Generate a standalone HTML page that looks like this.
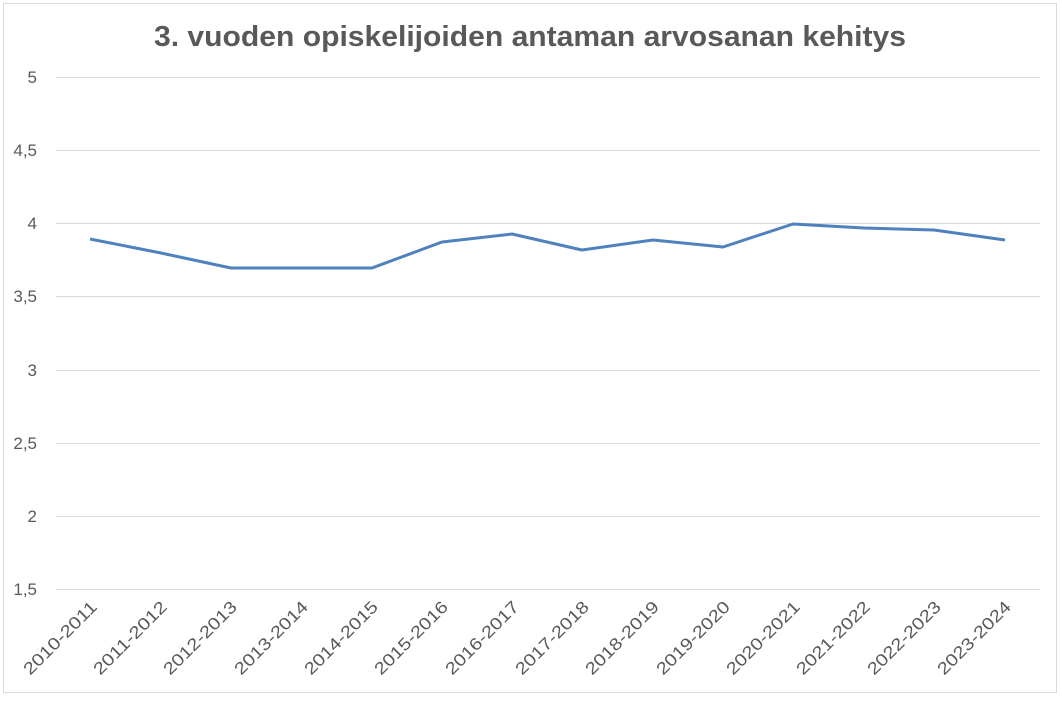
<!DOCTYPE html>
<html><head><meta charset="utf-8"><style>body{margin:0;background:#fff}</style></head>
<body>
<svg width="1062" height="699" xmlns="http://www.w3.org/2000/svg" font-family="Liberation Sans, sans-serif">
<rect x="3.5" y="3.5" width="1053" height="689" fill="#fff" stroke="#d9d9d9"/>
<text x="530" y="46" text-anchor="middle" font-size="29" font-weight="bold" fill="#595959" textLength="752" lengthAdjust="spacingAndGlyphs">3. vuoden opiskelijoiden antaman arvosanan kehitys</text>
<g stroke="#d9d9d9" stroke-width="1">
<line x1="56" x2="1040" y1="77.5" y2="77.5"/>
<line x1="56" x2="1040" y1="150.5" y2="150.5"/>
<line x1="56" x2="1040" y1="223.5" y2="223.5"/>
<line x1="56" x2="1040" y1="296.5" y2="296.5"/>
<line x1="56" x2="1040" y1="370.5" y2="370.5"/>
<line x1="56" x2="1040" y1="443.5" y2="443.5"/>
<line x1="56" x2="1040" y1="516.5" y2="516.5"/>
<line x1="56" x2="1040" y1="589.5" y2="589.5"/>
</g>
<g font-size="17" fill="#595959" text-anchor="end">
<text x="37" y="83">5</text>
<text x="37" y="156">4,5</text>
<text x="37" y="229">4</text>
<text x="37" y="302">3,5</text>
<text x="37" y="376">3</text>
<text x="37" y="449">2,5</text>
<text x="37" y="522">2</text>
<text x="37" y="595">1,5</text>
</g>
<polyline fill="none" stroke="#4f81bd" stroke-width="3" stroke-linejoin="round" points="90,239 161,253 231,268 301,268 372,268 442,242 512,234 582,250 653,240 723,247 793,224 864,228 934,230 1005,240"/>
<g font-size="17" fill="#595959" text-anchor="end">
<text transform="translate(98,608) rotate(-45)" textLength="96" lengthAdjust="spacingAndGlyphs">2010-2011</text>
<text transform="translate(168,608) rotate(-45)" textLength="96" lengthAdjust="spacingAndGlyphs">2011-2012</text>
<text transform="translate(238,608) rotate(-45)" textLength="96" lengthAdjust="spacingAndGlyphs">2012-2013</text>
<text transform="translate(309,608) rotate(-45)" textLength="96" lengthAdjust="spacingAndGlyphs">2013-2014</text>
<text transform="translate(379,608) rotate(-45)" textLength="96" lengthAdjust="spacingAndGlyphs">2014-2015</text>
<text transform="translate(449,608) rotate(-45)" textLength="96" lengthAdjust="spacingAndGlyphs">2015-2016</text>
<text transform="translate(520,608) rotate(-45)" textLength="96" lengthAdjust="spacingAndGlyphs">2016-2017</text>
<text transform="translate(590,608) rotate(-45)" textLength="96" lengthAdjust="spacingAndGlyphs">2017-2018</text>
<text transform="translate(660,608) rotate(-45)" textLength="96" lengthAdjust="spacingAndGlyphs">2018-2019</text>
<text transform="translate(731,608) rotate(-45)" textLength="96" lengthAdjust="spacingAndGlyphs">2019-2020</text>
<text transform="translate(801,608) rotate(-45)" textLength="96" lengthAdjust="spacingAndGlyphs">2020-2021</text>
<text transform="translate(871,608) rotate(-45)" textLength="96" lengthAdjust="spacingAndGlyphs">2021-2022</text>
<text transform="translate(942,608) rotate(-45)" textLength="96" lengthAdjust="spacingAndGlyphs">2022-2023</text>
<text transform="translate(1012,608) rotate(-45)" textLength="96" lengthAdjust="spacingAndGlyphs">2023-2024</text>
</g>
</svg>
</body></html>
